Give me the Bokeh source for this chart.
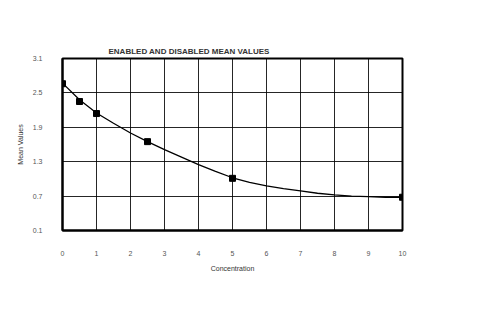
from bokeh.plotting import figure
from bokeh.models import FixedTicker, Range1d
from bokeh.embed import file_html
from bokeh.resources import INLINE

# measured standards
conc = [0, 0.5, 1, 2.5, 5, 10]
mean_vals = [2.66, 2.35, 2.14, 1.65, 1.01, 0.68]

# fitted curve
fit_x = [0, 0.5, 1, 1.5, 2, 2.5, 3, 3.5, 4, 4.5, 5, 5.5, 6, 6.5, 7, 7.5, 8, 8.5, 9, 9.5, 10]
fit_y = [2.67, 2.38, 2.15, 1.97, 1.80, 1.65, 1.51, 1.38, 1.25, 1.13, 1.02, 0.94, 0.88, 0.83, 0.79, 0.75, 0.72, 0.70, 0.69, 0.68, 0.68]

x_ticks = [0, 1, 2, 3, 4, 5, 6, 7, 8, 9, 10]
y_ticks = [0.1, 0.7, 1.3, 1.9, 2.5, 3.1]

p = figure(width=495, height=316, output_backend="svg", toolbar_location=None,
           x_range=Range1d(0, 10), y_range=Range1d(0.1, 3.1),
           min_border_left=62, min_border_right=93, min_border_top=58, min_border_bottom=86)

p.title.text = "ENABLED AND DISABLED MEAN VALUES"
p.title.text_font = "Liberation Sans"
p.title.text_font_size = "8px"
p.title.text_font_style = "bold"
p.title.text_color = "#333333"
p.title.align = "left"
p.title.offset = 46
p.title.standoff = 6

p.outline_line_color = "black"
p.outline_line_width = 2
p.background_fill_color = "white"
p.border_fill_color = "white"

p.xaxis.ticker = FixedTicker(ticks=x_ticks)
p.yaxis.ticker = FixedTicker(ticks=y_ticks)
p.yaxis.major_label_overrides = {t: f"{t:.1f}" for t in y_ticks}

for ax in (p.xaxis[0], p.yaxis[0]):
    ax.axis_line_color = "black"
    ax.axis_line_width = 2
    ax.major_tick_line_color = None
    ax.minor_tick_line_color = None
    ax.major_label_text_font = "Liberation Sans"
    ax.major_label_text_font_size = "7px"
    ax.major_label_text_color = "#555555"
    ax.axis_label_text_font = "Liberation Sans"
    ax.axis_label_text_font_size = "7px"
    ax.axis_label_text_font_style = "normal"
    ax.axis_label_text_color = "#333333"

p.xaxis.major_label_standoff = 14
p.yaxis.major_label_standoff = 14
p.xaxis.axis_label = "Concentration"
p.yaxis.axis_label = "Mean Values"
p.xaxis.axis_label_standoff = 6
p.yaxis.axis_label_standoff = 6

p.xgrid.ticker = FixedTicker(ticks=x_ticks)
p.ygrid.ticker = FixedTicker(ticks=y_ticks)
p.grid.grid_line_color = "black"
p.grid.grid_line_width = 1
p.grid.grid_line_alpha = 0.85

p.line(fit_x, fit_y, line_color="black", line_width=1.3)
p.scatter(conc, mean_vals, marker="square", size=6, fill_color="black", line_color="black")

open("out.html", "w").write(file_html(p, INLINE))
